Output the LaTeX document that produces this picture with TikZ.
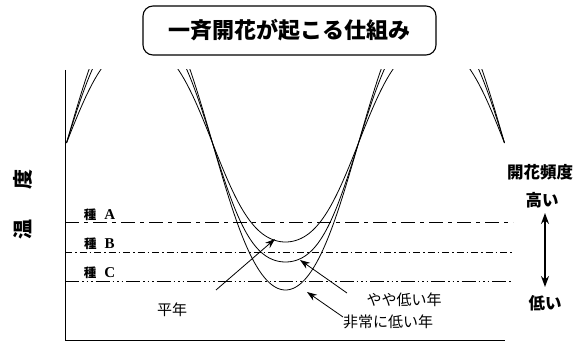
\documentclass[tikz,border=0pt]{standalone}
\usepackage{fontspec}
\newfontfamily\jp{Noto Sans CJK JP}
\newfontfamily\ser{Liberation Serif}
\usetikzlibrary{arrows.meta}
\begin{document}
\begin{tikzpicture}[x=1pt,y=-1pt,
  titlebox/.style={draw,line width=1.1pt,rounded corners=10pt,minimum width=293pt,minimum height=49pt,inner sep=0pt},
  axis/.style={line width=0.9pt},
  curve/.style={line width=0.8pt},
  lineA/.style={line width=0.8pt,dash pattern=on 14pt off 5pt on 4pt off 5pt},
  lineB/.style={line width=0.8pt,dash pattern=on 7pt off 3pt on 1.5pt off 3pt},
  lineC/.style={line width=0.8pt,dash pattern=on 14pt off 3pt on 1.5pt off 3pt on 1.5pt off 3pt on 1.5pt off 3pt},
  arr/.style={line width=0.8pt,-{Stealth[length=10pt,width=7pt]}},
  dbl/.style={line width=1.6pt,{Stealth[length=11pt,width=8pt]}-{Stealth[length=11pt,width=8pt]}},
  lbl/.style={inner sep=0pt,font=\jp\fontsize{15}{17}\selectfont},
  blbl/.style={inner sep=0pt,font=\jp\bfseries\fontsize{16.5}{19}\selectfont},
  species/.style={inner sep=0pt,anchor=base}
]
\useasboundingbox (0,0) rectangle (584,342);

% title
\node[titlebox] (title) at (289.5,30.5) {\jp\bfseries\fontsize{22}{26}\selectfont 一斉開花が起こる仕組み};

% axes
\coordinate (ytop) at (65,70);
\coordinate (orig) at (65,340);
\coordinate (xend) at (505,340);
\draw[axis] (ytop) -- (orig) -- (xend);

% curves: amplitude / flattening
\begin{scope}
\clip (65,70) rectangle (520,342);
\foreach \A/\b in {99/-0.045,119/-0.057,147/-0.023}{
  \draw[curve] plot[domain=66.5:504.5,samples=400]
    (\x,{143+\A*(cos(1.23288*(\x-285.5))+\b*cos(3.69864*(\x-285.5)))/(1+\b)});
}
\end{scope}

% threshold lines
\coordinate (a0) at (65,222); \coordinate (a1) at (513,222);
\coordinate (b0) at (65,252); \coordinate (b1) at (513,252);
\coordinate (c0) at (65,281); \coordinate (c1) at (513,281);
\draw[lineA] (a0) -- (a1);
\draw[lineB] (b0) -- (b1);
\draw[lineC] (c0) -- (c1);

\node[species] (sA) at (99.5,219) {\jp\bfseries\fontsize{12.5}{14}\selectfont 種\hspace{8pt}\ser\bfseries\fontsize{15}{16}\selectfont A};
\node[species] (sB) at (99.5,248.5) {\jp\bfseries\fontsize{12.5}{14}\selectfont 種\hspace{8pt}\ser\bfseries\fontsize{15}{16}\selectfont B};
\node[species] (sC) at (99.5,277.5) {\jp\bfseries\fontsize{12.5}{14}\selectfont 種\hspace{8pt}\ser\bfseries\fontsize{15}{16}\selectfont C};

% y label
\node[rotate=90,inner sep=0pt] (temp) at (23,204) {\jp\bfseries\fontsize{20}{22}\selectfont 温\hspace{30pt}度};

% year labels
\node[lbl] (normal) at (172,310) {平年};
\node[lbl] (slight) at (404,300) {やや低い年};
\node[lbl] (very) at (388,322) {非常に低い年};

% arrows
\coordinate (p1) at (216,290); \coordinate (q1) at (275,239);
\coordinate (p2) at (347,293); \coordinate (q2) at (300,260);
\coordinate (p3) at (343,317); \coordinate (q3) at (307,292);
\draw[arr] (p1) -- (q1);
\draw[arr] (p2) -- (q2);
\draw[arr] (p3) -- (q3);

% frequency
\node[blbl] (freq) at (540,172) {開花頻度};
\node[blbl] (high) at (542,200) {高い};
\node[blbl] (low) at (545,303) {低い};
\coordinate (d0) at (545,213); \coordinate (d1) at (545,287);
\draw[dbl] (d0) -- (d1);
\end{tikzpicture}
\end{document}
